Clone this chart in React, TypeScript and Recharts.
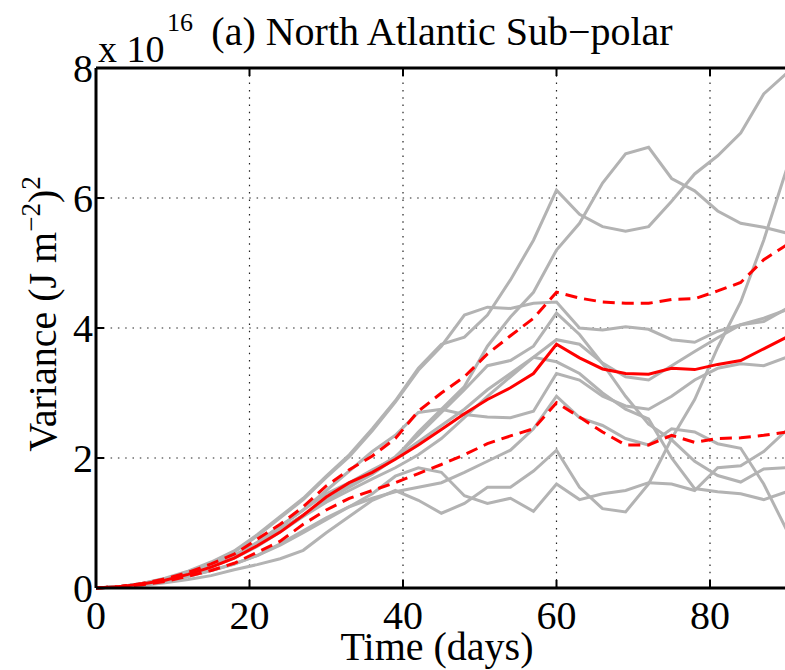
import { LineChart, Line, XAxis, YAxis, CartesianGrid, Label } from "recharts";

// time axis, every 3 days
const days = [
  0, 3, 6, 9, 12, 15, 18, 21, 24, 27, 30, 33, 36, 39, 42, 45, 48, 51, 54, 57,
  60, 63, 66, 69, 72, 75, 78, 81, 84, 87, 90,
];

// ensemble members (x 1e16)
const run1 = [0, 0.02, 0.07, 0.15, 0.26, 0.4, 0.57, 0.82, 1.1, 1.38, 1.72, 2.05, 2.45, 2.88, 3.38, 3.75, 3.86, 4.2, 4.74, 5.35, 6.12, 5.75, 5.56, 5.49, 5.56, 5.95, 6.37, 6.65, 7.0, 7.6, 7.92];
const run2 = [0, 0.02, 0.07, 0.14, 0.25, 0.38, 0.55, 0.8, 1.08, 1.36, 1.7, 2.02, 2.42, 2.86, 3.35, 3.72, 4.2, 4.32, 4.3, 4.38, 4.4, 4.0, 3.97, 4.02, 3.98, 3.82, 3.78, 3.95, 4.05, 4.1, 4.3];
const run3 = [0, 0.02, 0.06, 0.13, 0.23, 0.35, 0.5, 0.7, 0.95, 1.2, 1.45, 1.62, 1.82, 2.0, 2.4, 2.75, 3.1, 3.72, 4.17, 4.55, 5.2, 5.61, 6.23, 6.68, 6.78, 6.3, 6.11, 5.8, 5.61, 5.55, 5.46];
const run4 = [0, 0.02, 0.06, 0.12, 0.22, 0.33, 0.47, 0.66, 0.9, 1.12, 1.35, 1.58, 1.8, 2.02, 2.35, 2.7, 3.05, 3.42, 3.5, 3.72, 4.23, 3.9, 3.45, 2.95, 2.52, 2.28, 1.95, 1.73, 1.63, 1.83, 1.85];
const run5 = [0, 0.02, 0.06, 0.13, 0.22, 0.34, 0.48, 0.68, 0.9, 1.12, 1.35, 1.55, 1.75, 2.0, 2.25, 2.5, 2.75, 3.05, 3.3, 3.55, 3.82, 3.75, 3.46, 3.25, 3.2, 3.42, 3.64, 3.85, 4.05, 4.15, 4.28];
const run6 = [0, 0.02, 0.06, 0.12, 0.21, 0.32, 0.46, 0.64, 0.86, 1.1, 1.32, 1.5, 1.68, 1.85, 2.05, 2.3, 2.62, 2.95, 3.25, 3.55, 3.48, 3.3, 3.0, 2.75, 2.6, 2.0, 1.53, 1.48, 1.45, 1.36, 1.48];
const run7 = [0, 0.02, 0.06, 0.13, 0.23, 0.36, 0.5, 0.7, 0.95, 1.2, 1.5, 1.8, 2.1, 2.35, 2.7, 2.75, 2.67, 2.63, 2.62, 2.72, 3.3, 3.2, 2.95, 2.8, 2.75, 2.95, 3.2, 3.38, 3.45, 3.42, 3.55];
const run8 = [0, 0.02, 0.05, 0.1, 0.18, 0.27, 0.37, 0.5, 0.68, 0.88, 1.08, 1.25, 1.38, 1.48, 1.55, 1.62, 1.78, 1.95, 2.12, 2.45, 2.95, 2.62, 2.5, 2.3, 2.2, 2.45, 2.4, 2.22, 2.15, 1.6, 0.89];
const run9 = [0, 0.01, 0.04, 0.08, 0.13, 0.19, 0.28, 0.36, 0.45, 0.58, 0.85, 1.1, 1.35, 1.5, 1.35, 1.15, 1.3, 1.55, 1.55, 1.8, 2.12, 1.55, 1.22, 1.17, 1.6, 2.3, 2.9, 3.7, 4.4, 5.35, 6.45];
const run10 = [0, 0.02, 0.05, 0.1, 0.18, 0.27, 0.37, 0.5, 0.66, 0.85, 1.05, 1.25, 1.45, 1.72, 1.85, 1.78, 1.42, 1.3, 1.38, 1.18, 1.6, 1.36, 1.45, 1.5, 1.62, 1.6, 1.5, 1.85, 1.88, 2.1, 2.43];

// ensemble mean and spread
const meanVals = [0, 0.02, 0.06, 0.12, 0.21, 0.32, 0.46, 0.65, 0.86, 1.12, 1.4, 1.62, 1.78, 1.98, 2.2, 2.44, 2.68, 2.9, 3.08, 3.3, 3.75, 3.54, 3.37, 3.3, 3.29, 3.38, 3.36, 3.44, 3.5, 3.68, 3.86];
const upperVals = [0, 0.02, 0.07, 0.14, 0.24, 0.37, 0.52, 0.75, 0.98, 1.25, 1.57, 1.82, 2.03, 2.3, 2.72, 3.0, 3.25, 3.6, 3.88, 4.15, 4.55, 4.46, 4.4, 4.38, 4.38, 4.44, 4.45, 4.57, 4.7, 5.05, 5.28];
const lowerVals = [0, 0.02, 0.05, 0.1, 0.18, 0.27, 0.38, 0.55, 0.72, 0.98, 1.2, 1.38, 1.5, 1.62, 1.76, 1.9, 2.05, 2.22, 2.34, 2.45, 2.85, 2.63, 2.4, 2.2, 2.2, 2.35, 2.24, 2.3, 2.31, 2.35, 2.4];

const runs = [run1, run2, run3, run4, run5, run6, run7, run8, run9, run10];

const xTicks = [0, 20, 40, 60, 80];
const yTicks = [0, 2, 4, 6, 8];

const FONT = "'Liberation Serif', 'Times New Roman', serif";
const GRAY = "#b3b3b3";
const RED = "#ff0000";

const data = days.map((d, i) => {
  const row: Record<string, number> = { day: d, mean: meanVals[i], upper: upperVals[i], lower: lowerVals[i] };
  runs.forEach((r, k) => {
    row[`r${k}`] = r[i];
  });
  return row;
});

function BottomTick({ x, y, payload }: any) {
  return (
    <g>
      <line x1={x} x2={x} y1={y} y2={y - 8} stroke="#000" strokeWidth={2} />
      <text x={x} y={y + 41} textAnchor="middle" fontFamily={FONT} fontSize={40} fill="#000">
        {payload.value}
      </text>
    </g>
  );
}

function TopTick({ x, y }: any) {
  return <line x1={x} x2={x} y1={y} y2={y + 8} stroke="#000" strokeWidth={2} />;
}

function LeftTick({ x, y, payload }: any) {
  return (
    <g>
      <line x1={x} x2={x + 8} y1={y} y2={y} stroke="#000" strokeWidth={2} />
      <text x={x - 3} y={y + 14} textAnchor="end" fontFamily={FONT} fontSize={40} fill="#000">
        {payload.value}
      </text>
    </g>
  );
}

function TitleBlock() {
  return (
    <g>
      <text x={442} y={45} textAnchor="middle" fontFamily={FONT} fontSize={40} fill="#000">
        (a) North Atlantic Sub−polar
      </text>
      <text x={98} y={62} fontFamily={FONT} fontSize={38} fill="#000">
        x 10
      </text>
      <text x={167} y={31} fontFamily={FONT} fontSize={26} fill="#000">
        16
      </text>
    </g>
  );
}

function YTitle() {
  return (
    <text
      x={56}
      y={314}
      transform="rotate(-90, 56, 314)"
      textAnchor="middle"
      fontFamily={FONT}
      fontSize={40}
      fill="#000"
    >
      Variance (J m
      <tspan dy={-16} fontSize={27}>−2</tspan>
      <tspan dy={16}>)</tspan>
      <tspan dy={-16} fontSize={27}>2</tspan>
    </text>
  );
}

function XTitle() {
  return (
    <text x={437} y={660} textAnchor="middle" fontFamily={FONT} fontSize={40} fill="#000">
      Time (days)
    </text>
  );
}

export default function App() {
  return (
    <div
      style={{
        position: "absolute",
        left: 0,
        top: 0,
        width: 785,
        height: 670,
        overflow: "hidden",
        background: "#fff",
      }}
    >
      <LineChart
        width={800}
        height={680}
        data={data}
        margin={{ top: 67, right: 13.25, bottom: 0, left: 0 }}
      >
        <CartesianGrid stroke="#222" strokeWidth={1.2} strokeDasharray="1.5 5.8" />
        <XAxis
          dataKey="day"
          type="number"
          domain={[0, 90]}
          ticks={xTicks}
          height={92}
          axisLine={{ stroke: "#000", strokeWidth: 3 }}
          tickLine={false}
          tickSize={0}
          tickMargin={0}
          tick={BottomTick}
          interval={0}
        >
          <Label content={XTitle} />
        </XAxis>
        <XAxis
          xAxisId="top"
          orientation="top"
          dataKey="day"
          type="number"
          domain={[0, 90]}
          ticks={xTicks}
          height={1}
          axisLine={{ stroke: "#000", strokeWidth: 3 }}
          tickLine={false}
          tickSize={0}
          tickMargin={0}
          tick={TopTick}
          interval={0}
        >
          <Label content={TitleBlock} />
        </XAxis>
        <YAxis
          type="number"
          domain={[0, 8]}
          ticks={yTicks}
          width={96}
          axisLine={{ stroke: "#000", strokeWidth: 3 }}
          tickLine={false}
          tickSize={0}
          tickMargin={0}
          tick={LeftTick}
          interval={0}
        >
          <Label content={YTitle} />
        </YAxis>
        {runs.map((_, k) => (
          <Line
            key={`r${k}`}
            dataKey={`r${k}`}
            type="linear"
            stroke={GRAY}
            strokeWidth={3}
            dot={false}
            activeDot={false}
            isAnimationActive={false}
          />
        ))}
        <Line dataKey="upper" type="linear" stroke={RED} strokeWidth={3} strokeDasharray="12 7" dot={false} activeDot={false} isAnimationActive={false} />
        <Line dataKey="lower" type="linear" stroke={RED} strokeWidth={3} strokeDasharray="12 7" dot={false} activeDot={false} isAnimationActive={false} />
        <Line dataKey="mean" type="linear" stroke={RED} strokeWidth={3} dot={false} activeDot={false} isAnimationActive={false} />
      </LineChart>
    </div>
  );
}
